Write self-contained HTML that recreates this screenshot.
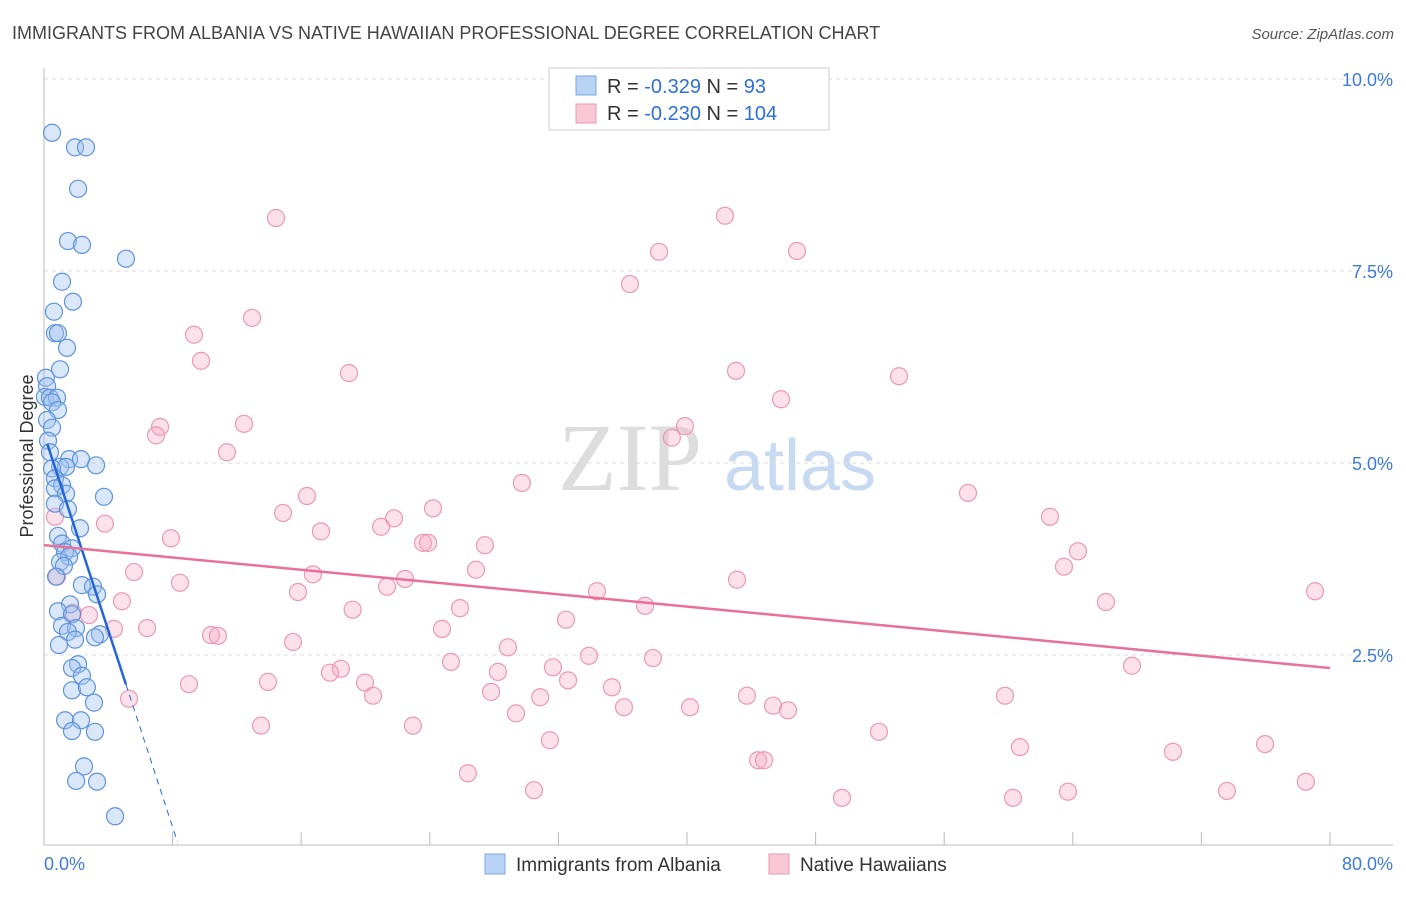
<!DOCTYPE html>
<html><head><meta charset="utf-8"><style>
body{margin:0;background:#fff;font-family:"Liberation Sans",sans-serif}
</style></head><body>
<svg id="chart" width="1406" height="892" xmlns="http://www.w3.org/2000/svg" font-family="Liberation Sans, sans-serif">
<text x="12" y="39" font-size="18" fill="#444">IMMIGRANTS FROM ALBANIA VS NATIVE HAWAIIAN PROFESSIONAL DEGREE CORRELATION CHART</text>
<text x="1394" y="39" font-size="15" fill="#555" text-anchor="end" font-style="italic">Source: ZipAtlas.com</text>
<g>
<text x="630" y="490" font-size="96" fill="#ddd" font-family="Liberation Serif, serif" text-anchor="middle">ZIP</text>
<text x="800" y="490" font-size="72" fill="#c8daf2" text-anchor="middle">atlas</text>
</g>
<g id="grid"></g>
<g id="axes"></g>
<g id="marks"></g>
<g>
<rect x="549" y="68" width="280" height="62" fill="#fff" stroke="#ccc"/>
<rect x="576" y="76" width="20" height="19" fill="#b9d3f5" stroke="#7aa6e0"/>
<rect x="576" y="104" width="20" height="19" fill="#f9c6d6" stroke="#e899b4"/>
<text x="607" y="93" font-size="20" fill="#333">R = <tspan fill="#2f6fd6">-0.329</tspan>   N =   <tspan fill="#2f6fd6">93</tspan></text>
<text x="607" y="120" font-size="20" fill="#333">R = <tspan fill="#2f6fd6">-0.230</tspan>   N = <tspan fill="#2f6fd6">104</tspan></text>
</g>
<g>
<rect x="485" y="854" width="20" height="20" fill="#b9d3f5" stroke="#7aa6e0"/>
<text x="516" y="871" font-size="19" fill="#333">Immigrants from Albania</text>
<rect x="769" y="854" width="20" height="20" fill="#f9c6d6" stroke="#e899b4"/>
<text x="800" y="871" font-size="19" fill="#333">Native Hawaiians</text>
</g>
<text transform="translate(33,456) rotate(-90)" font-size="18" fill="#333" text-anchor="middle">Professional Degree</text>
</svg>
<script>
const yTicks=[2.5,5.0,7.5,10.0];
const yTickLabels=["2.5%","5.0%","7.5%","10.0%"];
const xTicks=[0,8,16,24,32,40,48,56,64,72,80];
const blueX=[0.5,1.93,2.61,2.12,1.49,2.36,5.10,1.12,1.80,0.62,0.68,0.87,1.43,1.0,0.12,0.19,0.06,0.37,0.81,0.5,0.87,0.19,0.5,0.25,0.37,1.56,2.3,3.24,1.0,1.37,0.5,0.68,1.12,0.68,1.37,3.73,0.68,1.49,2.24,0.87,1.12,1.74,1.31,1.56,1.0,1.24,0.75,2.36,3.05,3.3,1.62,0.87,1.74,1.12,1.99,3.48,1.49,3.17,0.93,1.93,2.12,1.74,2.36,1.74,2.67,1.31,2.3,3.11,1.74,3.17,2.49,2.0,3.3,4.42];
const blueY=[9.30,9.11,9.11,8.57,7.89,7.84,7.66,7.36,7.10,6.97,6.69,6.69,6.50,6.22,6.11,6.0,5.86,5.85,5.85,5.79,5.69,5.56,5.46,5.29,5.14,5.05,5.05,4.97,4.95,4.95,4.93,4.80,4.71,4.67,4.60,4.56,4.47,4.40,4.15,4.05,3.95,3.89,3.84,3.78,3.71,3.66,3.52,3.41,3.39,3.29,3.16,3.07,3.03,2.88,2.85,2.77,2.80,2.73,2.63,2.70,2.38,2.33,2.23,2.04,2.08,1.65,1.65,1.88,1.51,1.50,1.05,0.86,0.85,0.40];
const pinkX=[14.43,42.36,38.26,46.84,36.45,12.94,9.33,9.77,18.97,43.05,53.19,45.85,7.22,12.44,6.97,39.87,39.06,11.38,29.73,16.36,57.48,0.68,14.87,3.79,17.23,21.77,24.2,20.97,62.58,7.9,23.58,23.89,27.43,64.32,5.6,16.73,26.87,63.45,0.81,8.46,22.46,43.11,15.8,21.34,34.4,79.07,4.85,37.39,66.06,19.2,25.88,1.8,2.8,32.47,4.35,6.41,24.76,10.39,10.82,15.49,28.86,33.9,37.88,25.32,31.66,67.68,18.47,17.79,28.24,32.6,9.02,13.93,19.97,35.33,27.81,20.47,30.87,43.73,59.78,5.29,36.08,40.19,45.35,46.28,29.36,13.5,22.95,51.94,31.47,60.71,75.96,70.23,44.42,44.79,26.37,78.5,30.48,73.59,63.7,49.64,60.28];
const pinkY=[8.19,8.22,7.75,7.76,7.33,6.89,6.67,6.33,6.17,6.20,6.13,5.83,5.47,5.51,5.36,5.48,5.33,5.14,4.74,4.57,4.61,4.30,4.35,4.21,4.11,4.28,4.41,4.17,4.30,4.02,3.96,3.96,3.93,3.85,3.58,3.55,3.61,3.65,3.52,3.44,3.49,3.48,3.32,3.39,3.33,3.33,3.20,3.14,3.19,3.09,3.11,3.05,3.02,2.96,2.84,2.85,2.84,2.76,2.75,2.67,2.60,2.49,2.46,2.41,2.34,2.36,2.32,2.27,2.28,2.17,2.12,2.15,2.14,2.08,2.02,1.97,1.95,1.97,1.97,1.93,1.82,1.82,1.84,1.78,1.74,1.58,1.58,1.50,1.39,1.30,1.34,1.24,1.13,1.13,0.96,0.85,0.74,0.73,0.72,0.64,0.64];
const blueTrend=[5.38,-0.64]; const blueSolidEnd=5.1; const blueDashEnd=8.3;
const pinkTrend=[3.93,-0.02];

const NS="http://www.w3.org/2000/svg";
const X=v=>44+v*(1330-44)/80;
const Y=v=>847-v*76.8;
function mk(parent,tag,attrs){const e=document.createElementNS(NS,tag);for(const k in attrs)e.setAttribute(k,attrs[k]);document.getElementById(parent).appendChild(e);return e;}
yTicks.forEach((t,i)=>{
 const g=mk('grid','line',{x1:44,x2:1393,y1:Y(t),y2:Y(t),stroke:'#ddd','stroke-dasharray':'4,4'});
 
 
 const l=mk('axes','text',{x:1393,y:Y(t)+7,'font-size':18,fill:'#3d7bd9','text-anchor':'end'});
 l.textContent=yTickLabels[i];
 
 
});
let a=mk('axes','line',{x1:44,x2:44,y1:68,y2:845,stroke:'#bbb'});


a=mk('axes','line',{x1:44,x2:1393,y1:845,y2:845,stroke:'#bbb'});


xTicks.forEach(t=>{const e=mk('axes','line',{x1:X(t),x2:X(t),y1:832,y2:845,stroke:'#bbb'});
 
 });
let xl=mk('axes','text',{x:44,y:870,'font-size':18,fill:'#3d7bd9'});xl.textContent='0.0%';


xl=mk('axes','text',{x:1393,y:870,'font-size':18,fill:'#3d7bd9','text-anchor':'end'});xl.textContent='80.0%';


pinkX.forEach((x,i)=>{const c=mk('marks','circle',{cx:X(x),cy:Y(pinkY[i]),r:8.5,fill:'rgba(246,170,195,0.35)',stroke:'#eb98b4','stroke-width':1.2});
 
 });
blueX.forEach((x,i)=>{const c=mk('marks','circle',{cx:X(x),cy:Y(blueY[i]),r:8.5,fill:'rgba(160,196,240,0.4)',stroke:'#5f93db','stroke-width':1.2});
 
 });
const bl=v=>blueTrend[0]+blueTrend[1]*v, pl=v=>pinkTrend[0]+pinkTrend[1]*v;
let t=mk('marks','line',{x1:X(0.2),y1:Y(bl(0.2)),x2:X(blueSolidEnd),y2:Y(bl(blueSolidEnd)),stroke:'#2466d6','stroke-width':2.5});


t=mk('marks','line',{x1:X(blueSolidEnd),y1:Y(bl(blueSolidEnd)),x2:X(blueDashEnd),y2:Y(bl(blueDashEnd)),stroke:'#2466d6','stroke-width':1,'stroke-dasharray':'6,5'});


t=mk('marks','line',{x1:X(0),y1:Y(pl(0)),x2:X(80),y2:Y(pl(80)),stroke:'#e8709a','stroke-width':2.5});


</script>
</body></html>
